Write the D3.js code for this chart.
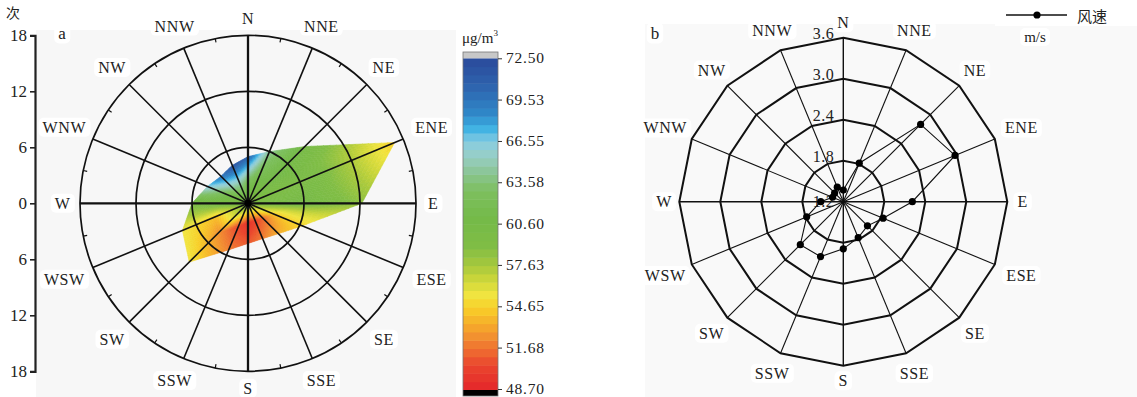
<!DOCTYPE html>
<html><head><meta charset="utf-8">
<script src="https://cdn.jsdelivr.net/npm/d3@7"></script>
<style>
body{margin:0;background:#fff}
svg{display:block}
text{font-family:"Liberation Serif","Tinos","DejaVu Serif",serif;fill:#222}
text.cjk{font-family:"Noto Sans CJK SC",sans-serif}
</style>
</head><body>
<svg id="chart" width="1137" height="397"></svg>
<script>
// ---------- data ----------
const directions = ["N","NNE","NE","ENE","E","ESE","SE","SSE","S","SSW","SW","WSW","W","WNW","NW","NNW"];
// panel a: frequency (counts) per direction
const frequency = [5.0,6.0,8.6,17.0,12.2,6.3,4.6,4.1,4.3,5.4,8.9,7.6,6.0,4.7,4.1,4.4];
// concentration (µg/m3) at centre, half radius and outer edge of each direction
const concCenter = 59.5;
const concMid   = [63.0,61.5,61.0,59.5,60.5,54.5,51.5,50.5,49.5,50.5,52.5,54.0,60.0,61.5,63.5,64.5];
const concOuter = [70.5,64.5,60.5,54.5,58.5,55.0,53.5,52.0,51.0,52.0,55.5,55.5,59.5,66.5,69.5,71.5];
const freqTicks = [-18,-12,-6,0,6,12,18];
const freqRings = [6,12,18];
const colorbarTicks = [72.50,69.53,66.55,63.58,60.60,57.63,54.65,51.68,48.70];
// panel b: wind speed (m/s) per direction
const windSpeed = [1.37,1.81,2.80,2.97,2.21,1.83,1.70,1.77,1.89,2.07,2.09,1.78,1.53,1.37,1.38,1.43];
const speedRings = [1.8,2.4,3.0,3.6];
const speedLabels = ["1.2","1.8","2.4","3.0","3.6"];

// colour map (style)
const cStops = [48.7,50.5,51.5,52.5,53.5,54.6,55.5,56.5,57.6,59.0,61.0,63.0,64.5,65.5,66.5,67.5,68.5,70.5,72.5];
const cCols  = ["#e4262b","#ea462e","#ee6a30","#f28f30","#f6ae2a","#f8cf28","#f1e540","#d0d83a","#a8c93c","#80bd45","#74ba48","#7dbf5f","#8cc69c","#98cec6","#88cde1","#3eb1e3","#2f88c9","#2e63ae","#2a4a9b"];
const color = d3.scaleLinear().domain(cStops).range(cCols).interpolate(d3.interpolateRgb).clamp(true);

const svg = d3.select("#chart");
const angle = d3.scaleLinear().domain([0,16]).range([0,2*Math.PI]);

function boxedLabel(g, x, y, txt, opts={}) {
  const t = g.append("text").attr("x",x).attr("y",y)
    .attr("text-anchor",opts.anchor||"middle").attr("dominant-baseline","central")
    .style("font-size",(opts.size||16)+"px").style("letter-spacing",(opts.ls||0)+"px").text(txt);
  if (opts.box) {
    const b = t.node().getBBox();
    g.insert("rect", () => t.node()).attr("x",b.x-4).attr("y",b.y-1).attr("width",b.width+8).attr("height",b.height+2)
      .attr("rx",5).attr("fill","#fff");
  }
  return t;
}

// ---------- panel a ----------
svg.append("rect").attr("x",36).attr("y",30).attr("width",420).attr("height",367).attr("fill","#f7f7f7");
const cxA = 248, cyA = 203.3;
const rA = d3.scaleLinear().domain([0,18]).range([0,168]);
const gA = svg.append("g").attr("transform",`translate(${cxA},${cyA})`);

// interpolated fill
const T = 14, F = 28;
function prof(i, f){ return f < 0.5 ? concCenter + (concMid[i]-concCenter)*f/0.5 : concMid[i] + (concOuter[i]-concMid[i])*(f-0.5)/0.5; }
const cells = [];
for (let i=0;i<16;i++){
  const j=(i+1)%16;
  const Vi=d3.pointRadial(angle(i), rA(frequency[i])), Vj=d3.pointRadial(angle(i+1), rA(frequency[j]));
  const P=t=>[Vi[0]+(Vj[0]-Vi[0])*t, Vi[1]+(Vj[1]-Vi[1])*t];
  for (let a=0;a<T;a++) for (let b=0;b<F;b++){
    const t0=a/T,t1=(a+1)/T,f0=b/F,f1=(b+1)/F;
    const p0=P(t0),p1=P(t1);
    const tm=(t0+t1)/2, fm=(f0+f1)/2;
    const v=(1-tm)*prof(i,fm)+tm*prof(j,fm);
    cells.push({pts:[[p0[0]*f0,p0[1]*f0],[p0[0]*f1,p0[1]*f1],[p1[0]*f1,p1[1]*f1],[p1[0]*f0,p1[1]*f0]], v});
  }
}
gA.append("g").selectAll("path").data(cells).join("path")
  .attr("d",d=>"M"+d.pts.map(p=>p.join(",")).join("L")+"Z")
  .attr("fill",d=>color(d.v)).attr("stroke",d=>color(d.v)).attr("stroke-width",0.6);

// rings and spokes
gA.selectAll("circle.ring").data(freqRings).join("circle").attr("class","ring")
  .attr("r",d=>rA(d)).attr("fill","none").attr("stroke","#111").attr("stroke-width",1.7);
gA.selectAll("line.spoke").data(directions).join("line").attr("class","spoke")
  .attr("x1",0).attr("y1",0)
  .attr("x2",(d,i)=>d3.pointRadial(angle(i),rA(18))[0]).attr("y2",(d,i)=>d3.pointRadial(angle(i),rA(18))[1])
  .attr("stroke","#111").attr("stroke-width",(d,i)=>i%4===0?2.3:1.6);
// minor ticks on outer circle
gA.selectAll("line.mt").data(d3.range(16)).join("line").attr("class","mt")
  .attr("x1",d=>d3.pointRadial(angle(d+0.5),rA(18))[0]).attr("y1",d=>d3.pointRadial(angle(d+0.5),rA(18))[1])
  .attr("x2",d=>d3.pointRadial(angle(d+0.5),rA(18)-4)[0]).attr("y2",d=>d3.pointRadial(angle(d+0.5),rA(18)-4)[1])
  .attr("stroke","#111").attr("stroke-width",1.2);
gA.append("circle").attr("r",3.5).attr("fill","#000");

// direction labels
directions.forEach((d,i)=>{
  const a=angle(i); const w=d.length*6.3;
  const r=179+w*Math.abs(Math.sin(a))+6*Math.abs(Math.cos(a));
  const p=d3.pointRadial(a,r);
  boxedLabel(gA,p[0],p[1],d,{box:true,ls:0.6});
});

// left radial axis
const yA = d3.scaleLinear().domain([-18,18]).range([cyA+rA(18), cyA-rA(18)]);
const axA = svg.append("g").attr("transform","translate(35,0)")
  .call(d3.axisLeft(yA).tickValues(freqTicks).tickFormat(d=>Math.abs(d)).tickSize(5).tickPadding(3));
axA.attr("font-family",null);
axA.select(".domain").attr("stroke","#222").attr("stroke-width",2.2);
axA.selectAll(".tick line").attr("stroke","#222").attr("stroke-width",1.6);
axA.selectAll(".tick text").style("font-size","17px").attr("fill","#222");
svg.append("text").attr("class","cjk").attr("x",13).attr("y",12).attr("text-anchor","middle").attr("dominant-baseline","central")
  .style("font-size","14px").text("次");
boxedLabel(svg,62,33,"a",{box:true,size:17});

// colour bar
const yC = d3.scaleLinear().domain([48.7,72.5]).range([390,58.3]);
const gC = svg.append("g");
const nb = 40, step=(72.5-48.7)/nb;
gC.selectAll("rect.band").data(d3.range(nb)).join("rect").attr("class","band")
  .attr("x",463).attr("width",35)
  .attr("y",d=>yC(48.7+(d+1)*step)).attr("height",d=>yC(48.7+d*step)-yC(48.7+(d+1)*step)+0.5)
  .attr("fill",d=>color(48.7+(d+0.5)*step));
gC.append("rect").attr("x",463).attr("y",52).attr("width",35).attr("height",6.3).attr("fill","#c8c8c8");
gC.append("rect").attr("x",463).attr("y",390).attr("width",35).attr("height",6).attr("fill","#000");
gC.append("rect").attr("x",463).attr("y",52).attr("width",35).attr("height",344).attr("fill","none").attr("stroke","#777").attr("stroke-width",0.8);
const yCt = d3.scaleLinear().domain([48.7,72.5]).range([389,58.3]);
const axC = gC.append("g").attr("transform","translate(498,0)")
  .call(d3.axisRight(yCt).tickValues(colorbarTicks).tickFormat(d3.format(".2f")).tickSize(4).tickPadding(4));
axC.attr("font-family",null);
axC.select(".domain").remove();
axC.selectAll(".tick line").attr("stroke","#333");
axC.selectAll(".tick text").attr("dy","0.3em").style("font-size","15.5px").style("letter-spacing","0.8px").attr("fill","#222");
svg.append("text").attr("x",480).attr("y",38).attr("text-anchor","middle").attr("dominant-baseline","central")
  .style("font-size","15px").html("μg/m<tspan dy='-5' style='font-size:9px'>3</tspan>");

// ---------- panel b ----------
svg.append("rect").attr("x",645).attr("y",24).attr("width",492).attr("height",373).attr("fill","#f9f9f9");
const cxB = 843.3, cyB = 201.7;
const rB = d3.scaleLinear().domain([1.2,3.6]).range([0,164]);
const gB = svg.append("g").attr("transform",`translate(${cxB},${cyB})`);
const ringLine = d3.lineRadial().angle((d,i)=>angle(i)).radius(d=>rB(d)).curve(d3.curveLinearClosed);
gB.selectAll("path.ring").data(speedRings).join("path").attr("class","ring")
  .attr("d",v=>ringLine(directions.map(()=>v))).attr("fill","none").attr("stroke","#111").attr("stroke-width",2);
gB.selectAll("line.spoke").data(directions).join("line").attr("class","spoke")
  .attr("x1",0).attr("y1",0)
  .attr("x2",(d,i)=>d3.pointRadial(angle(i),rB(3.6))[0]).attr("y2",(d,i)=>d3.pointRadial(angle(i),rB(3.6))[1])
  .attr("stroke","#111").attr("stroke-width",(d,i)=>i%4===0?1.4:1.1);
// ring labels
speedLabels.forEach(l=>{
  const v=+l;
  gB.append("text").attr("x",-9).attr("y",-rB(v)-(v===1.2?0:4)).attr("text-anchor","end").attr("dominant-baseline","central")
    .style("font-size","16px").attr("fill","#444").style("letter-spacing","0.5px").text(l);
});
// wind speed line + dots
const wsLine = d3.lineRadial().angle((d,i)=>angle(i)).radius(d=>rB(d)).curve(d3.curveLinearClosed);
gB.append("path").attr("d",wsLine(windSpeed)).attr("fill","none").attr("stroke","#111").attr("stroke-width",1.1);
gB.selectAll("circle.dot").data(windSpeed).join("circle").attr("class","dot")
  .attr("cx",(d,i)=>d3.pointRadial(angle(i),rB(d))[0]).attr("cy",(d,i)=>d3.pointRadial(angle(i),rB(d))[1])
  .attr("r",3.6).attr("fill","#000");
directions.forEach((d,i)=>{
  const a=angle(i); const w=d.length*6.3;
  const r=173+w*Math.abs(Math.sin(a))+6*Math.abs(Math.cos(a));
  const p=d3.pointRadial(a,r);
  boxedLabel(gB,p[0],p[1],d,{box:true,ls:0.6});
});
boxedLabel(svg,655,33,"b",{box:true,size:17});
// legend
svg.append("rect").attr("x",995).attr("y",0).attr("width",142).attr("height",26).attr("fill","#fff");
svg.append("line").attr("x1",1006).attr("x2",1067).attr("y1",15).attr("y2",15).attr("stroke","#111").attr("stroke-width",1.3);
svg.append("circle").attr("cx",1037).attr("cy",15).attr("r",3.6).attr("fill","#000");
svg.append("text").attr("class","cjk").attr("x",1077).attr("y",15).attr("dominant-baseline","central")
  .style("font-size","15px").text("风速");
boxedLabel(svg,1035,37,"m/s",{box:true,size:15});
</script>
</body></html>
